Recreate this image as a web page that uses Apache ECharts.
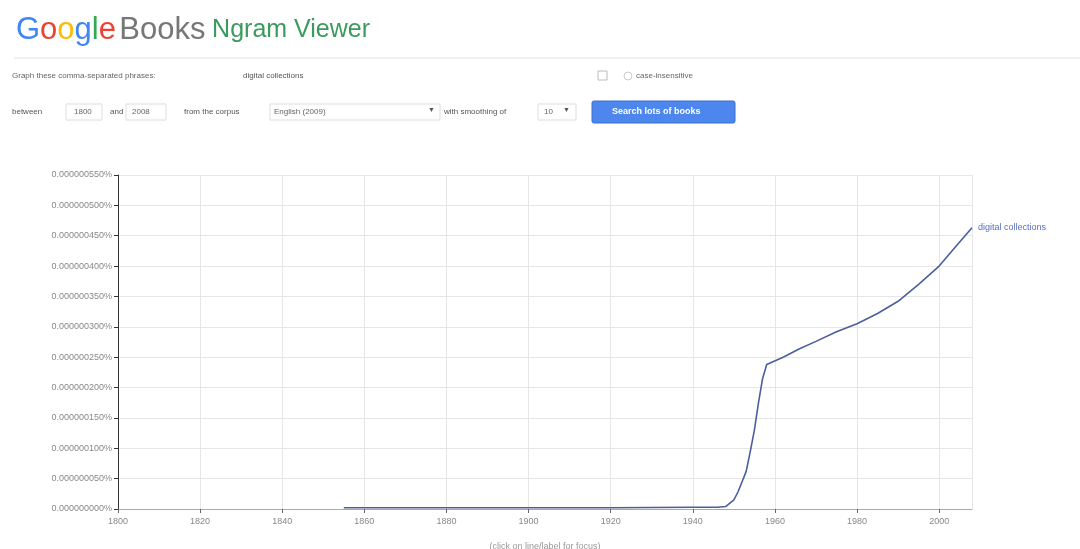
<!DOCTYPE html>
<html>
<head>
<meta charset="utf-8">
<script src="https://cdn.jsdelivr.net/npm/echarts@6/dist/echarts.min.js"></script>
<style>html,body{margin:0;padding:0;background:#fff;}#c{width:1080px;height:549px;}</style>
</head>
<body>
<div id="c"></div>
<script>
var years = [1855, 1880, 1900, 1920, 1940, 1946, 1948, 1950, 1951, 1952, 1953, 1954, 1955, 1956, 1957, 1958, 1962, 1966, 1970, 1975, 1980, 1985, 1990, 1995, 2000, 2004, 2008];
var values = [0.000000002, 0.000000002, 0.000000002, 0.000000002, 0.000000003, 0.000000003, 0.000000004, 0.000000015, 0.000000028, 0.000000045, 0.000000062, 0.000000095, 0.000000130, 0.000000175, 0.000000215, 0.000000238, 0.000000250, 0.000000264, 0.000000276, 0.000000292, 0.000000305, 0.000000322, 0.000000342, 0.000000370, 0.000000400, 0.000000432, 0.000000463];
var xTicks = [1800, 1820, 1840, 1860, 1880, 1900, 1920, 1940, 1960, 1980, 2000];
var seriesName = 'digital collections';
var phrase = 'digital collections';

var chart = echarts.init(document.getElementById('c'));
var pts = years.map(function (y, i) { return [y, values[i]]; });
var font = 'Arial, "Liberation Sans", sans-serif';
var option = {
  animation: false,
  backgroundColor: '#fff',
  grid: { left: 118, right: 108, top: 175, bottom: 40, outerBoundsMode: 'none', containLabel: false },
  xAxis: {
    type: 'value', min: 1800, max: 2008, interval: 20,
    name: '(click on line/label for focus)', nameLocation: 'middle', nameGap: 33,
    nameTextStyle: { color: '#999', fontSize: 9, fontFamily: font },
    axisLine: { lineStyle: { color: '#aaa' } },
    axisTick: { show: true, length: 4, lineStyle: { color: '#666' } },
    axisLabel: { color: '#888', fontSize: 9, fontFamily: font, margin: 8, showMaxLabel: false,
      formatter: function (v) { return xTicks.indexOf(v) >= 0 ? String(v) : ''; } },
    splitLine: { show: true, lineStyle: { color: '#e6e6e6' } }
  },
  yAxis: {
    type: 'value', min: 0, max: 0.00000055, interval: 0.00000005,
    axisLine: { show: true, lineStyle: { color: '#333' } },
    axisTick: { show: true, inside: false, length: 4, lineStyle: { color: '#333' } },
    axisLabel: { color: '#888', fontSize: 9, fontFamily: font, margin: 6,
      formatter: function (v) { return v.toFixed(9) + '%'; } },
    splitLine: { show: true, lineStyle: { color: '#e6e6e6' } }
  },
  series: [{
    name: seriesName, type: 'line', data: pts, showSymbol: false,
    lineStyle: { color: '#4a5f9c', width: 1.6 },
    endLabel: { show: true, formatter: seriesName, color: '#5a6fc0', fontSize: 9, fontFamily: font, distance: 6 }
  }],
  graphic: [
    { type: 'text', left: 16, top: 15, style: { rich: {
        b: { fill: '#4285f4', fontSize: 31, fontFamily: font },
        r: { fill: '#ea4335', fontSize: 31, fontFamily: font },
        y: { fill: '#fbbc05', fontSize: 31, fontFamily: font },
        g: { fill: '#34a853', fontSize: 31, fontFamily: font },
        k: { fill: '#777', fontSize: 31, fontFamily: font },
        n: { fill: '#3c9a5f', fontSize: 25, fontFamily: font }
      }, text: '{b|G}{r|o}{y|o}{b|g}{g|l}{r|e} {k|Books}  {n|Ngram Viewer}' } },
    { type: 'line', shape: { x1: 14, y1: 58, x2: 1080, y2: 58 }, style: { stroke: '#e0e0e0', lineWidth: 1 } },
    { type: 'text', left: 12, top: 72, style: { text: 'Graph these comma-separated phrases:', fill: '#666', fontSize: 8, fontFamily: font } },
    { type: 'text', left: 243, top: 72, style: { text: phrase, fill: '#555', fontSize: 8, fontFamily: font } },
    { type: 'rect', shape: { x: 598, y: 71, width: 9, height: 9 }, style: { fill: '#fff', stroke: '#bbb' } },
    { type: 'circle', shape: { cx: 628, cy: 76, r: 4 }, style: { fill: '#fff', stroke: '#ccc' } },
    { type: 'text', left: 636, top: 72, style: { text: 'case-insensitive', fill: '#666', fontSize: 8, fontFamily: font } },
    { type: 'text', left: 12, top: 108, style: { text: 'between', fill: '#555', fontSize: 8, fontFamily: font } },
    { type: 'rect', shape: { x: 66, y: 104, width: 36, height: 16 }, style: { fill: '#fff', stroke: '#ddd' } },
    { type: 'text', left: 74, top: 108, style: { text: '1800', fill: '#666', fontSize: 8, fontFamily: font } },
    { type: 'text', left: 110, top: 108, style: { text: 'and', fill: '#555', fontSize: 8, fontFamily: font } },
    { type: 'rect', shape: { x: 126, y: 104, width: 40, height: 16 }, style: { fill: '#fff', stroke: '#ddd' } },
    { type: 'text', left: 132, top: 108, style: { text: '2008', fill: '#666', fontSize: 8, fontFamily: font } },
    { type: 'text', left: 184, top: 108, style: { text: 'from the corpus', fill: '#555', fontSize: 8, fontFamily: font } },
    { type: 'rect', shape: { x: 270, y: 104, width: 170, height: 16 }, style: { fill: '#fff', stroke: '#ddd' } },
    { type: 'text', left: 274, top: 108, style: { text: 'English (2009)', fill: '#666', fontSize: 8, fontFamily: font } },
    { type: 'text', left: 428, top: 107, style: { text: '▼', fill: '#555', fontSize: 7, fontFamily: font } },
    { type: 'text', left: 444, top: 108, style: { text: 'with smoothing of', fill: '#555', fontSize: 8, fontFamily: font } },
    { type: 'rect', shape: { x: 538, y: 104, width: 38, height: 16 }, style: { fill: '#fff', stroke: '#ddd' } },
    { type: 'text', left: 544, top: 108, style: { text: '10', fill: '#666', fontSize: 8, fontFamily: font } },
    { type: 'text', left: 563, top: 107, style: { text: '▼', fill: '#555', fontSize: 7, fontFamily: font } },
    { type: 'rect', shape: { x: 592, y: 101, width: 143, height: 22, r: 2 }, style: { fill: '#4d86ec', stroke: '#3b6fd0' } },
    { type: 'text', left: 612, top: 107, style: { text: 'Search lots of books', fill: '#fff', fontSize: 9, fontFamily: font, fontWeight: 'bold' } }
  ]
};
chart.setOption(option);
</script>
</body>
</html>
